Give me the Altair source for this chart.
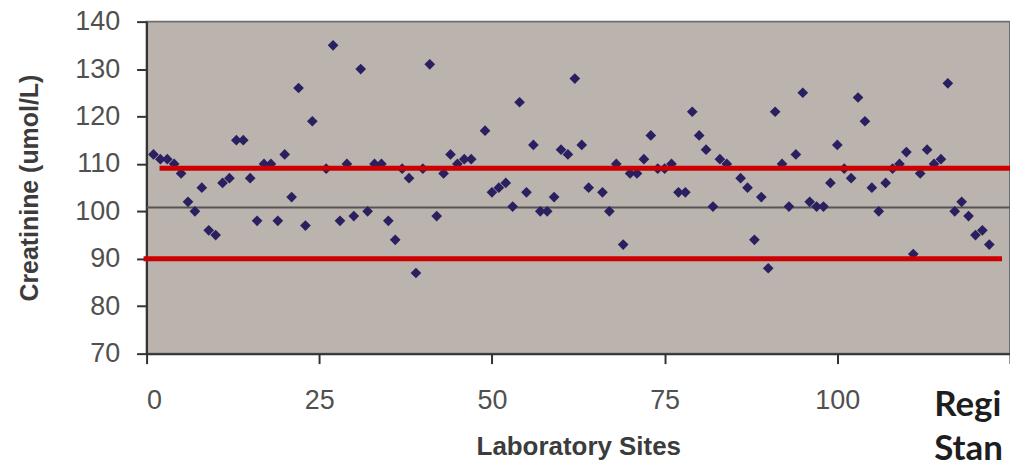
import altair as alt
import pandas as pd

# Laboratory site index and creatinine result (umol/L)
sites = [1, 2, 3, 4, 5, 6, 7, 8, 9, 10,
         11, 12, 13, 14, 15, 16, 17, 18, 19, 20,
         21, 22, 23, 24, 26, 27, 28, 29, 30, 31,
         32, 33, 34, 35, 36, 37, 38, 39, 40, 41,
         42, 43, 44, 45, 46, 47, 49, 50, 51, 52,
         53, 54, 55, 56, 57, 58, 59, 60, 61, 62,
         63, 64, 66, 67, 68, 69, 70, 71, 72, 73,
         74, 75, 76, 77, 78, 79, 80, 81, 82, 83,
         84, 86, 87, 88, 89, 90, 91, 92, 93, 94,
         95, 96, 97, 98, 99, 100, 101, 102, 103, 104,
         105, 106, 107, 108, 109, 110, 111, 112, 113, 114,
         115, 116, 117, 118, 119, 120, 121, 122]
creatinine = [112, 111, 111, 110, 108, 102, 100, 105, 96, 95,
              106, 107, 115, 115, 107, 98, 110, 110, 98, 112,
              103, 126, 97, 119, 109, 135, 98, 110, 99, 130,
              100, 110, 110, 98, 94, 109, 107, 87, 109, 131,
              99, 108, 112, 110, 111, 111, 117, 104, 105, 106,
              101, 123, 104, 114, 100, 100, 103, 113, 112, 128,
              114, 105, 104, 100, 110, 93, 108, 108, 111, 116,
              109, 109, 110, 104, 104, 121, 116, 113, 101, 111,
              110, 107, 105, 94, 103, 88, 121, 110, 101, 112,
              125, 102, 101, 101, 106, 114, 109, 107, 124, 119,
              105, 100, 106, 109, 110, 112.5, 91, 108, 113, 110,
              111, 127, 100, 102, 99, 95, 96, 93]

mean_value = [100.8]
limit_values = [109.1, 90]
x_ticks = [0, 25, 50, 75, 100, 125]
y_ticks = [70, 80, 90, 100, 110, 120, 130, 140]
side_text = ["Regi", "Stan"]

df = pd.DataFrame({"site": sites, "value": creatinine})
mean_df = pd.DataFrame({"value": mean_value})
upper_df = pd.DataFrame({"value": [limit_values[0]]})
lower_df = pd.DataFrame({"value": [limit_values[1]]})

W, H = 866, 333

xscale = alt.Scale(domain=[0, 125], nice=False, zero=False)
yscale = alt.Scale(domain=[70, 140], nice=False, zero=False)

x_axis = alt.Axis(values=x_ticks, title="Laboratory Sites",
                  labelExpr="datum.value > 110 ? '' : datum.label",
                  grid=False, tickSize=10, tickWidth=2, tickColor="#333",
                  domainColor="#333", domainWidth=2,
                  labelFont="Liberation Sans", labelFontSize=27,
                  labelColor="#505050", labelPadding=24,
                  titleFont="Liberation Sans", titleFontSize=26,
                  titleFontWeight="bold", titleColor="#3c3c3c",
                  titlePadding=20)
y_axis = alt.Axis(values=y_ticks, title="Creatinine (umol/L)",
                  grid=False, tickSize=10, tickWidth=2, tickColor="#333",
                  domainColor="#333", domainWidth=2,
                  labelFont="Liberation Sans", labelFontSize=27,
                  labelColor="#505050", labelPadding=17,
                  titleFont="Liberation Sans", titleFontSize=25,
                  titleFontWeight="bold", titleColor="#3c3c3c",
                  titlePadding=32)

Y = alt.Y("value:Q", scale=yscale, axis=y_axis)

points = alt.Chart(df).mark_point(
    shape="diamond", filled=True, size=115, color="#2a2060", opacity=1
).encode(
    x=alt.X("site:Q", scale=xscale, axis=x_axis),
    y=Y,
)

mean_rule = alt.Chart(mean_df).mark_rule(color="#555", strokeWidth=2).encode(
    y=Y, x=alt.value(0), x2=alt.value(W),
)

upper_rule = alt.Chart(upper_df).mark_rule(color="#cc0000", strokeWidth=5).encode(
    y=Y, x=alt.value(13), x2=alt.value(W),
)

lower_rule = alt.Chart(lower_df).mark_rule(color="#cc0000", strokeWidth=5).encode(
    y=Y, x=alt.value(-3), x2=alt.value(858),
)

text_style = dict(align="left", baseline="alphabetic", font="Lato",
                  fontWeight="bold", fontSize=35, color="#1e1e1e")
txt1 = alt.Chart(pd.DataFrame({"t": [side_text[0]]})).mark_text(**text_style).encode(
    text="t:N", x=alt.value(790), y=alt.value(396))
txt2 = alt.Chart(pd.DataFrame({"t": [side_text[1]]})).mark_text(**text_style).encode(
    text="t:N", x=alt.value(790), y=alt.value(440))

chart = alt.layer(mean_rule, points, upper_rule, lower_rule, txt1, txt2).properties(
    width=W, height=H,
    autosize=alt.AutoSizeParams(type="none"),
    padding={"left": 147, "top": 21, "right": 0, "bottom": 110},
    background="white",
).configure_view(
    fill="#bab3ae", stroke="#6e6e6e", strokeWidth=2
)

chart.save("out.html", embed_options={"renderer": "svg", "actions": False})
